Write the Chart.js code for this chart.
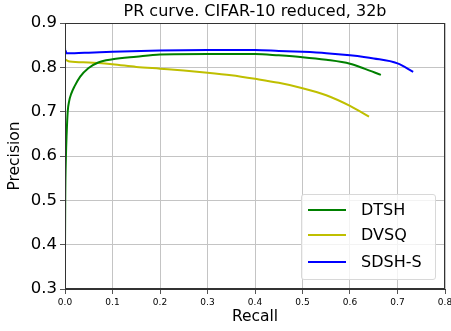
<!DOCTYPE html>
<html>
<head>
<meta charset="utf-8">
<script src="https://cdn.jsdelivr.net/npm/chart.js@4"></script>
<style>
  body { margin: 0; background: #fff; }
  #wrap { position: relative; width: 451px; height: 331px; }
  #legend {
    position: absolute; left: 301px; top: 194px; width: 133px; height: 84px;
    border: 1px solid #d8d8d8; border-radius: 3px; background: rgba(255,255,255,0.8);
    font-family: "DejaVu Sans", sans-serif; font-size: 16px; color: #000;
  }
  .row { position: absolute; left: 0; height: 20px; }
  .row .swatch { position: absolute; left: 6px; top: 9px; width: 38px; height: 2px; }
  .row .label { position: absolute; left: 59px; top: 0; line-height: 20px; white-space: nowrap; }
</style>
</head>
<body>
<div id="wrap">
  <canvas id="prChart" width="451" height="331"></canvas>
  <div id="legend"></div>
</div>
<script>
// PR curve data
const chartTitle = 'PR curve. CIFAR-10 reduced, 32b';
const seriesNames = ['DTSH', 'DVSQ', 'SDSH-S'];
const seriesColors = ['#008000', '#bfbf00', '#0000ff'];

const dtshRecall = [0, 0.0005, 0.002, 0.0035, 0.0057, 0.009, 0.013, 0.02, 0.032, 0.049, 0.07, 0.1, 0.15, 0.2, 0.3, 0.4, 0.45, 0.5, 0.55, 0.6, 0.63, 0.665];
const dtshPrecision = [0.385, 0.5, 0.6, 0.65, 0.7, 0.725, 0.74, 0.757, 0.779, 0.798, 0.811, 0.818, 0.824, 0.829, 0.830, 0.830, 0.827, 0.823, 0.817, 0.808, 0.797, 0.783];

const dvsqRecall = [0, 0.003, 0.01, 0.05, 0.1, 0.15, 0.2, 0.25, 0.3, 0.35, 0.4, 0.45, 0.5, 0.55, 0.6, 0.62, 0.64];
const dvsqPrecision = [0.818, 0.816, 0.813, 0.811, 0.807, 0.801, 0.797, 0.793, 0.788, 0.782, 0.774, 0.765, 0.753, 0.737, 0.713, 0.701, 0.689];

const sdshRecall = [0, 0.0005, 0.001, 0.003, 0.01, 0.02, 0.05, 0.1, 0.2, 0.3, 0.4, 0.45, 0.5, 0.55, 0.6, 0.65, 0.7, 0.733];
const sdshPrecision = [0.846, 0.83, 0.838, 0.832, 0.832, 0.832, 0.833, 0.835, 0.838, 0.839, 0.839, 0.837, 0.835, 0.832, 0.827, 0.820, 0.809, 0.790];

const xTicks = [0, 0.1, 0.2, 0.3, 0.4, 0.5, 0.6, 0.7, 0.8];
const yTicks = [0.3, 0.4, 0.5, 0.6, 0.7, 0.8, 0.9];

function points(xs, ys) {
    return xs.map((x, i) => ({ x: x, y: ys[i] }));
}

const recalls = [dtshRecall, dvsqRecall, sdshRecall];
const precisions = [dtshPrecision, dvsqPrecision, sdshPrecision];

const font = 'DejaVu Sans';

// box around the plot area (top/right spines) + title centred over the plot
const frame = {
    id: 'frame',
    afterDatasetsDraw(chart) {
        const a = chart.chartArea;
        const ctx = chart.ctx;
        ctx.save();
        ctx.strokeStyle = '#333';
        ctx.lineWidth = 1;
        ctx.strokeRect(Math.round(a.left) + 0.5, Math.round(a.top) + 0.5,
            Math.round(a.right - a.left) - 1, Math.round(a.bottom - a.top) - 1);
        ctx.fillStyle = '#000';
        ctx.font = '16px "' + font + '"';
        ctx.textAlign = 'center';
        ctx.textBaseline = 'middle';
        ctx.fillText(chartTitle, (a.left + a.right) / 2, 12);
        ctx.restore();
    }
};

new Chart(document.getElementById('prChart').getContext('2d'), {
    type: 'line',
    data: {
        datasets: seriesNames.map((name, i) => ({
            label: name,
            data: points(recalls[i], precisions[i]),
            borderColor: seriesColors[i],
            borderWidth: 2,
            pointRadius: 0,
            cubicInterpolationMode: 'monotone',
            fill: false
        }))
    },
    options: {
        responsive: false,
        animation: false,
        devicePixelRatio: 1,
        layout: { padding: { left: 0, right: 6, top: 23, bottom: 0 } },
        plugins: {
            legend: { display: false },
            tooltip: { enabled: false },
            title: { display: false }
        },
        scales: {
            x: {
                type: 'linear',
                min: 0, max: 0.8,
                afterBuildTicks: s => { s.ticks = xTicks.map(v => ({ value: v })); },
                afterFit: s => { s.height = 42; s.paddingLeft = 0; s.paddingRight = 0; },
                ticks: {
                    color: '#000',
                    font: { family: font, size: 9 },
                    padding: 3,
                    maxRotation: 0,
                    callback: v => v.toFixed(1)
                },
                grid: { color: '#c4c4c4', lineWidth: 1, tickLength: 5, tickColor: '#555' },
                border: { color: '#333', width: 1 },
                title: {
                    display: true, text: 'Recall', color: '#000',
                    font: { family: font, size: 15.5 },
                    padding: { top: 0, bottom: 5 }
                }
            },
            y: {
                min: 0.3, max: 0.9,
                afterBuildTicks: s => { s.ticks = yTicks.map(v => ({ value: v })); },
                afterFit: s => { s.width = 65; s.paddingTop = 0; s.paddingBottom = 0; },
                ticks: {
                    color: '#000',
                    font: { family: font, size: 16.5 },
                    padding: 3,
                    callback: v => v.toFixed(1)
                },
                grid: { color: '#c4c4c4', lineWidth: 1, tickLength: 5, tickColor: '#555' },
                border: { color: '#333', width: 1 },
                title: {
                    display: true, text: 'Precision', color: '#000',
                    font: { family: font, size: 15.5 },
                    padding: { top: 6, bottom: 0 }
                }
            }
        }
    },
    plugins: [frame]
});

// legend box inside the plot, lower right
const legend = document.getElementById('legend');
const rowTops = [5, 30, 57];
seriesNames.forEach((name, i) => {
    const row = document.createElement('div');
    row.className = 'row';
    row.style.top = rowTops[i] + 'px';
    row.innerHTML = '<div class="swatch" style="background:' + seriesColors[i] + '"></div><div class="label">' + name + '</div>';
    legend.appendChild(row);
});
</script>
</body>
</html>
